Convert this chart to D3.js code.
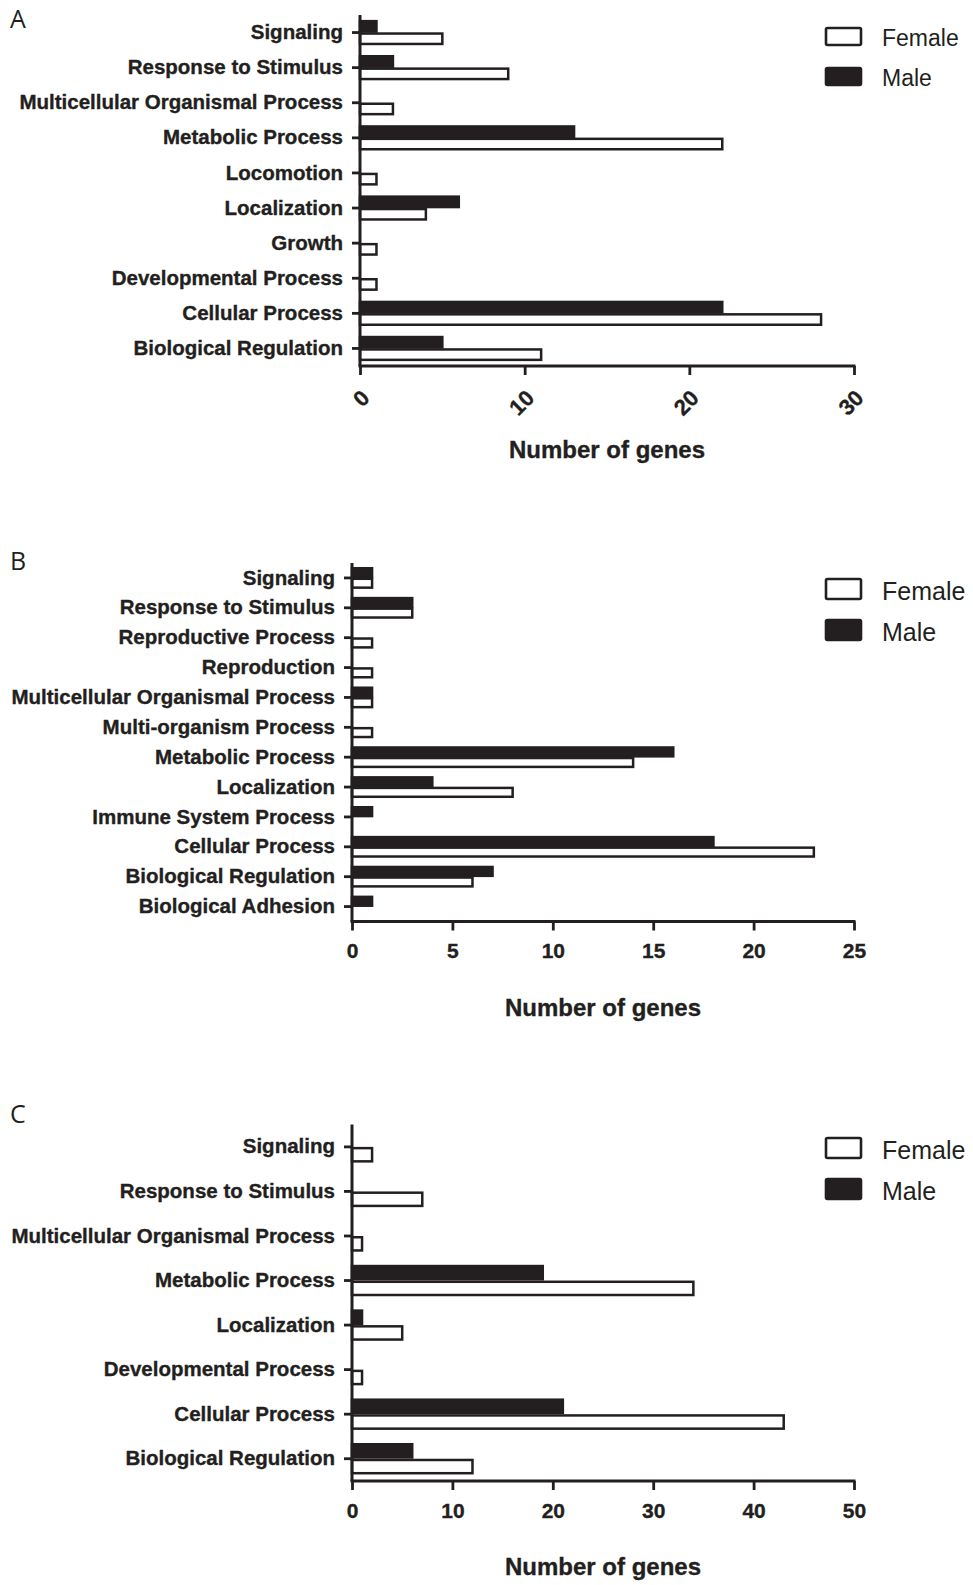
<!DOCTYPE html>
<html>
<head>
<meta charset="utf-8">
<script src="https://cdn.jsdelivr.net/npm/d3@7"></script>
<style>
  html, body { margin: 0; padding: 0; background: #ffffff; }
  svg { display: block; }
  text { fill: #231f20; }
</style>
</head>
<body>
<svg id="chart" width="973" height="1585"></svg>
<script>
// ---- Panel A: GO biological process counts ----
const categoriesA = ["Signaling", "Response to Stimulus", "Multicellular Organismal Process",
  "Metabolic Process", "Locomotion", "Localization", "Growth", "Developmental Process",
  "Cellular Process", "Biological Regulation"];
const maleA   = [1, 2, 0, 13, 0, 6, 0, 0, 22, 5];
const femaleA = [5, 9, 2, 22, 1, 4, 1, 1, 28, 11];
const ticksA  = [0, 10, 20, 30];

// ---- Panel B ----
const categoriesB = ["Signaling", "Response to Stimulus", "Reproductive Process", "Reproduction",
  "Multicellular Organismal Process", "Multi-organism Process", "Metabolic Process",
  "Localization", "Immune System Process", "Cellular Process", "Biological Regulation",
  "Biological Adhesion"];
const maleB   = [1, 3, 0, 0, 1, 0, 16, 4, 1, 18, 7, 1];
const femaleB = [1, 3, 1, 1, 1, 1, 14, 8, 0, 23, 6, 0];
const ticksB  = [0, 5, 10, 15, 20, 25];

// ---- Panel C ----
const categoriesC = ["Signaling", "Response to Stimulus", "Multicellular Organismal Process",
  "Metabolic Process", "Localization", "Developmental Process", "Cellular Process",
  "Biological Regulation"];
const maleC   = [0, 0, 0, 19, 1, 0, 21, 6];
const femaleC = [2, 7, 1, 34, 5, 1, 43, 12];
const ticksC  = [0, 10, 20, 30, 40, 50];

const seriesNames = ["Male", "Female"];
const axisTitle = "Number of genes";

const INK = "#231f20";
const BOLD_FONT = "'Liberation Sans', Arial, Helvetica, sans-serif";
const svg = d3.select("#chart");

// heavier bold, close to Helvetica Bold
function boldText(sel, size) {
  return sel
    .attr("font-family", BOLD_FONT)
    .attr("font-weight", "bold")
    .attr("font-size", size)
    .attr("fill", INK)
    .attr("stroke", INK)
    .attr("stroke-width", 0.35);
}

function drawPanel(p) {
  const g = svg.append("g");

  const x = d3.scaleLinear()
    .domain([0, d3.max(p.ticks)])
    .range([p.left, p.right]);

  const y = d3.scaleBand()
    .domain(p.categories)
    .range([p.top, p.bottom])
    .paddingInner(0.35)
    .paddingOuter(0.175);

  const sub = d3.scaleBand()
    .domain(seriesNames)
    .range([0, y.bandwidth()])
    .paddingInner(0.16);

  const rows = p.categories.map((c, i) => ({
    cat: c,
    values: [
      { s: "Male", v: p.male[i] },
      { s: "Female", v: p.female[i] }
    ]
  }));

  // bars
  const rowG = g.selectAll("g.row").data(rows).join("g")
    .attr("class", "row")
    .attr("transform", d => `translate(0,${y(d.cat)})`);

  rowG.selectAll("rect")
    .data(d => d.values.filter(e => e.v > 0))
    .join("rect")
    .attr("x", x(0))
    .attr("y", d => sub(d.s))
    .attr("width", d => x(d.v) - x(0))
    .attr("height", sub.bandwidth())
    .attr("fill", d => d.s === "Male" ? INK : "#ffffff")
    .attr("stroke", INK)
    .attr("stroke-width", 2.5);

  // category axis
  const yAxis = d3.axisLeft(y).tickSize(8).tickSizeOuter(0).tickPadding(9);
  const yg = g.append("g")
    .attr("transform", `translate(${p.left},0)`)
    .call(yAxis);
  yg.select(".domain").remove();
  yg.selectAll(".tick line").attr("stroke", INK).attr("stroke-width", 2.8);
  boldText(yg.selectAll(".tick text"), 20.5);
  g.append("line")
    .attr("x1", p.left).attr("x2", p.left)
    .attr("y1", p.top).attr("y2", p.bottom)
    .attr("stroke", INK).attr("stroke-width", 3);

  // value axis
  const xAxis = d3.axisBottom(x).tickValues(p.ticks).tickSize(9).tickSizeOuter(0)
    .tickFormat(d3.format("d"));
  const xg = g.append("g")
    .attr("transform", `translate(0,${p.bottom})`)
    .call(xAxis);
  xg.select(".domain").remove();
  xg.selectAll(".tick line").attr("stroke", INK).attr("stroke-width", 2.8);
  const xt = boldText(xg.selectAll(".tick text"), p.rotate ? 22 : 21);
  if (p.rotate) {
    xt.attr("text-anchor", "end")
      .attr("dy", "0.35em")
      .attr("transform", "translate(5,28) rotate(-45)")
      .attr("y", 0).attr("x", 0);
  } else {
    xt.attr("y", p.tickLabelY - p.bottom).attr("dy", 0);
  }
  g.append("line")
    .attr("x1", p.left - 1.5).attr("x2", p.right + 1.5)
    .attr("y1", p.bottom).attr("y2", p.bottom)
    .attr("stroke", INK).attr("stroke-width", 3);

  // axis title
  boldText(g.append("text"), 24)
    .attr("x", (p.left + p.right) / 2)
    .attr("y", p.titleY)
    .attr("text-anchor", "middle")
    .text(axisTitle);

  // panel letter
  g.append("text")
    .attr("x", 10)
    .attr("y", p.letterY)
    .attr("font-family", "'Open Sans', 'Liberation Sans', sans-serif")
    .attr("font-size", 25)
    .text(p.letter);

  // legend
  const leg = g.append("g");
  const legendItems = [
    { name: "Female", fill: "#ffffff", y: p.legendY },
    { name: "Male", fill: INK, y: p.legendY + p.legendGap }
  ];
  legendItems.forEach(it => {
    leg.append("rect")
      .attr("x", 826).attr("y", it.y)
      .attr("width", 35).attr("height", p.legendBoxH)
      .attr("rx", 1.5)
      .attr("fill", it.fill)
      .attr("stroke", INK).attr("stroke-width", 2.6);
    leg.append("text")
      .attr("x", 882)
      .attr("y", it.y + p.legendBoxH + 0.5)
      .attr("font-family", "'Liberation Sans', Arial, sans-serif")
      .attr("font-size", p.legendFont)
      .text(it.name);
  });
}

drawPanel({
  letter: "A", letterY: 28,
  categories: categoriesA, male: maleA, female: femaleA, ticks: ticksA,
  left: 360, right: 854, top: 15, bottom: 366,
  rotate: true, titleY: 458,
  legendY: 28, legendGap: 40, legendBoxH: 17, legendFont: 23
});

drawPanel({
  letter: "B", letterY: 570,
  categories: categoriesB, male: maleB, female: femaleB, ticks: ticksB,
  left: 352, right: 854, top: 563, bottom: 921.5,
  rotate: false, tickLabelY: 958, titleY: 1016,
  legendY: 579, legendGap: 41, legendBoxH: 20, legendFont: 25
});

drawPanel({
  letter: "C", letterY: 1123,
  categories: categoriesC, male: maleC, female: femaleC, ticks: ticksC,
  left: 352, right: 854, top: 1124.6, bottom: 1481,
  rotate: false, tickLabelY: 1518, titleY: 1575,
  legendY: 1138, legendGap: 41, legendBoxH: 20, legendFont: 25
});
</script>
</body>
</html>
